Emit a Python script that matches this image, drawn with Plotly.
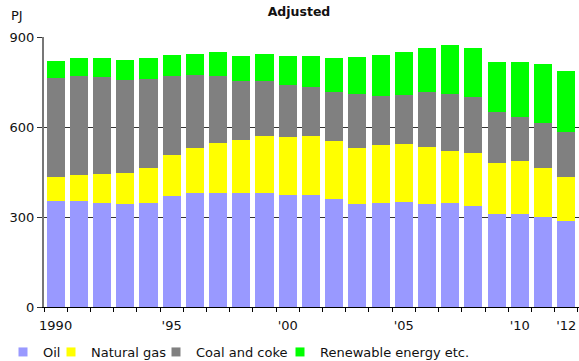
import plotly.graph_objects as go

years = list(range(1990, 2013))
oil = [353, 353, 347, 343, 347, 370, 380, 380, 380, 380, 373, 373, 360, 343, 347, 350, 343, 347, 337, 310, 310, 300, 287]
natural_gas = [80, 87, 96, 104, 116, 137, 150, 167, 177, 190, 194, 197, 193, 187, 193, 193, 190, 173, 176, 170, 177, 163, 146]
coal_coke = [330, 330, 324, 310, 297, 263, 243, 223, 196, 183, 173, 163, 164, 180, 163, 163, 184, 190, 187, 171, 146, 150, 150]
renewable = [57, 60, 63, 66, 70, 70, 70, 80, 84, 90, 97, 104, 113, 123, 137, 144, 146, 163, 163, 166, 184, 197, 204]

series_names = ["Oil", "Natural gas", "Coal and coke", "Renewable energy etc."]
series_values = [oil, natural_gas, coal_coke, renewable]
colors = ["#9999FF", "#FFFF00", "#808080", "#00FF00"]

tick_vals = [1990, 1995, 2000, 2005, 2010, 2012]
tick_text = ["1990", "'95", "'00", "'05", "'10", "'12"]

W, H = 579, 361
ML, MR, MT, MB = 44, 0, 37, 54
PW = W - ML - MR
FONT = "DejaVu Sans"

fig = go.Figure()
for name, vals, col in zip(series_names, series_values, colors):
    fig.add_trace(go.Bar(x=years, y=vals, name=name, marker=dict(color=col, line=dict(width=0)),
                         showlegend=False))

# legend entries (one legend per entry for exact placement)
legend_text_px = [43, 91, 196, 320]
legend_ids = ["legend", "legend2", "legend3", "legend4"]
for name, col, lid in zip(series_names, colors, legend_ids):
    fig.add_trace(go.Scatter(x=[None], y=[None], mode="markers", name=name,
                             marker=dict(symbol="square", size=9, color=col),
                             legend=lid, showlegend=True))

layout_legends = {}
for lid, tx in zip(legend_ids, legend_text_px):
    layout_legends[lid] = dict(
        xref="container", yref="container",
        x=(tx - 40) / W, xanchor="left",
        y=1 - 352 / H, yanchor="middle",
        bgcolor="rgba(0,0,0,0)", borderwidth=0,
        font=dict(family=FONT, size=13, color="#111"),
        itemwidth=30, tracegroupgap=0,
    )

fig.update_layout(
    template="none",
    width=W, height=H,
    margin=dict(l=ML, r=MR, t=MT, b=MB, pad=0, autoexpand=False),
    paper_bgcolor="white", plot_bgcolor="white",
    barmode="stack", bargap=0.22,
    font=dict(family=FONT, size=13, color="#111"),
    title=dict(text="<b>Adjusted</b>", xref="container", yref="container",
               x=299 / W, xanchor="center", y=1 - 12 / H, yanchor="middle",
               font=dict(family=FONT, size=12.5, color="#111")),
    annotations=[dict(text="PJ", xref="paper", yref="paper", x=(16.5 - ML) / PW,
                      y=(H - MB - 15) / (H - MT - MB), showarrow=False, xanchor="center", yanchor="middle",
                      font=dict(family=FONT, size=13, color="#111"))],
    **layout_legends,
)

fig.update_xaxes(
    automargin=False,
    range=[1989.5, 2012.55], tickvals=tick_vals, ticktext=tick_text,
    ticks="outside", ticklen=6, tickcolor="rgba(0,0,0,0)",
    showgrid=False, zeroline=False,
    showline=True, linecolor="black", linewidth=1,
    minor=dict(tick0=1989.5, dtick=1, ticks="outside", ticklen=4, tickcolor="black", tickwidth=1, showgrid=False),
    tickfont=dict(family=FONT, size=13, color="#111"),
)
fig.update_yaxes(
    automargin=False,
    range=[0, 900], tick0=0, dtick=300,
    ticks="outside", ticklen=5, tickcolor="#333", tickwidth=1,
    showgrid=True, gridcolor="#333", gridwidth=1, zeroline=False,
    showline=True, linecolor="#777", linewidth=2,
    tickfont=dict(family=FONT, size=13, color="#111"),
)

fig.write_html("out.html", config={"displayModeBar": False},
               post_script="document.body.style.margin='0';document.body.style.padding='0';")
